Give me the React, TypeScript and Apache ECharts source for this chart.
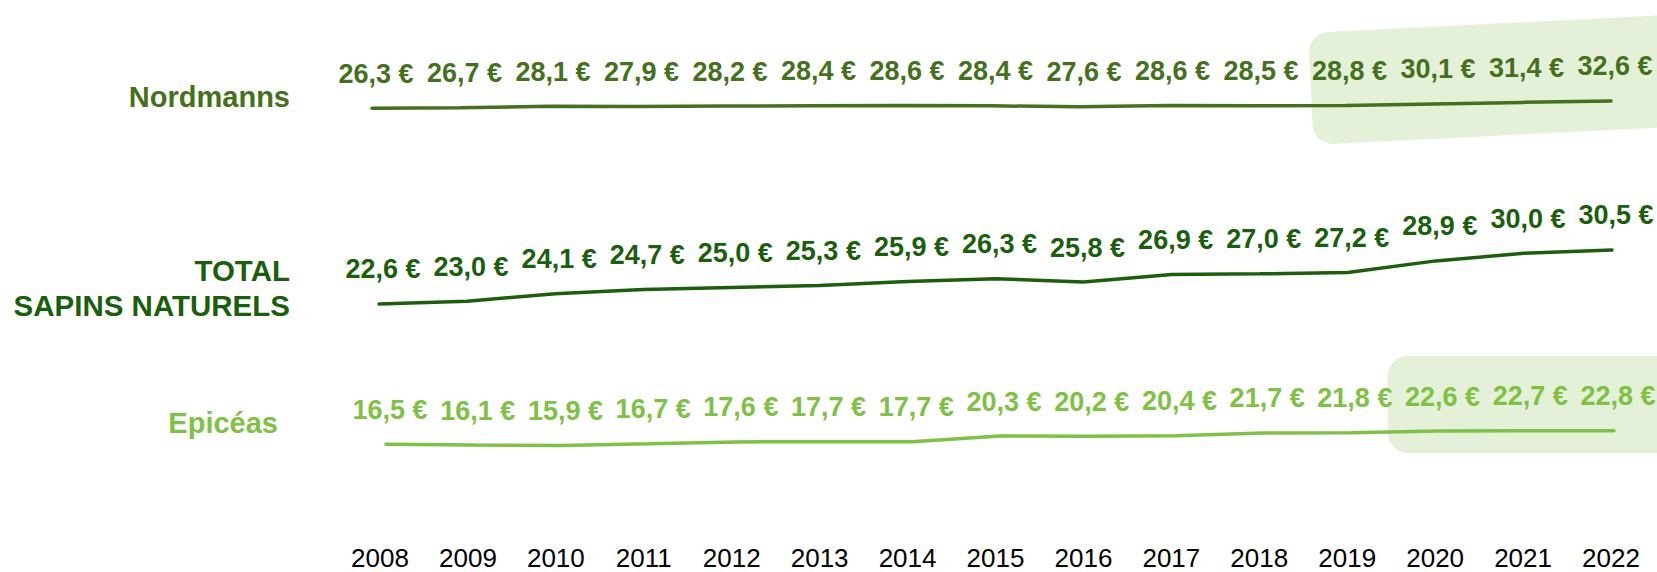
import React, { useEffect, useRef } from "react";
import * as echarts from "echarts";

const years = ["2008","2009","2010","2011","2012","2013","2014","2015","2016","2017","2018","2019","2020","2021","2022"];
const nordmanns = [26.3, 26.7, 28.1, 27.9, 28.2, 28.4, 28.6, 28.4, 27.6, 28.6, 28.5, 28.8, 30.1, 31.4, 32.6];
const total = [22.6, 23.0, 24.1, 24.7, 25.0, 25.3, 25.9, 26.3, 25.8, 26.9, 27.0, 27.2, 28.9, 30.0, 30.5];
const epiceas = [16.5, 16.1, 15.9, 16.7, 17.6, 17.7, 17.7, 20.3, 20.2, 20.4, 21.7, 21.8, 22.6, 22.7, 22.8];

const C_NORD = "#44721c";
const C_TOTAL = "#1a5f0b";
const C_EPI = "#7dc243";
const C_BOX = "#e4f1d8";
const FONT = '"Liberation Sans", Arial, sans-serif';

const fmt = (v: number) => v.toFixed(1).replace(".", ",") + " €";

export default function App() {
  const ref = useRef<HTMLDivElement>(null);
  useEffect(() => {
    if (!ref.current) return;
    const chart = echarts.init(ref.current, null, { renderer: "svg" });
    const hiddenX = (gridIndex: number) => ({
      type: "category" as const,
      gridIndex,
      data: years,
      boundaryGap: false,
      axisLine: { show: false },
      axisTick: { show: false },
      axisLabel: { show: false },
      splitLine: { show: false },
    });
    const hiddenY = (gridIndex: number, min: number, max: number) => ({
      type: "value" as const,
      gridIndex,
      min,
      max,
      axisLine: { show: false },
      axisTick: { show: false },
      axisLabel: { show: false },
      splitLine: { show: false },
    });
    const lineSeries = (data: number[], idx: number, color: string) => ({
      type: "line" as const,
      xAxisIndex: idx,
      yAxisIndex: idx,
      data,
      symbol: "circle",
      symbolSize: 0.1,
      showSymbol: true,
      itemStyle: { color },
      lineStyle: { color, width: 3.5, cap: "round" as const },
      label: {
        show: true,
        position: "top" as const,
        distance: 21,
        offset: [4, 0],
        formatter: (p: any) => fmt(p.value),
        color,
        fontFamily: FONT,
        fontWeight: "bold" as const,
        fontSize: 27,
      },
      z: 5,
    });
    chart.setOption({
      animation: false,
      backgroundColor: "#ffffff",
      grid: [
        { left: 372, right: 46, top: 92.4, height: 46.4 },
        { left: 379, right: 45, top: 219.2, height: 102.5 },
        { left: 386, right: 43, top: 415.1, height: 64.8 },
        { left: 380, right: 46, top: 497, height: 40 },
      ],
      xAxis: [
        hiddenX(0),
        hiddenX(1),
        hiddenX(2),
        {
          type: "category",
          gridIndex: 3,
          data: years,
          boundaryGap: false,
          axisLine: { show: false },
          axisTick: { show: false },
          splitLine: { show: false },
          axisLabel: {
            show: true,
            interval: 0,
            margin: 8,
            color: "#000000",
            fontFamily: FONT,
            fontSize: 26,
          },
        },
      ],
      yAxis: [
        hiddenY(0, 0, 40),
        hiddenY(1, 20, 35),
        hiddenY(2, 0, 30),
        hiddenY(3, 0, 1),
      ],
      graphic: [
        {
          type: "rect",
          x: 1308,
          y: 33,
          rotation: 0.05,
          originX: 0,
          originY: 0,
          shape: { x: 0, y: 0, width: 420, height: 112, r: 20 },
          style: { fill: C_BOX },
          z: -10,
        },
        {
          type: "rect",
          x: 1388,
          y: 356,
          shape: { x: 0, y: 0, width: 320, height: 97, r: 20 },
          style: { fill: C_BOX },
          z: -10,
        },
        {
          type: "text",
          x: 290,
          y: 97,
          style: {
            text: "Nordmanns",
            align: "right",
            verticalAlign: "middle",
            fill: C_NORD,
            font: `bold 29px ${FONT}`,
          },
        },
        {
          type: "text",
          x: 290,
          y: 288,
          style: {
            text: "TOTAL\nSAPINS NATURELS",
            align: "right",
            verticalAlign: "middle",
            lineHeight: 35,
            fill: C_TOTAL,
            font: `bold 29.5px ${FONT}`,
          },
        },
        {
          type: "text",
          x: 278,
          y: 423,
          style: {
            text: "Epicéas",
            align: "right",
            verticalAlign: "middle",
            fill: C_EPI,
            font: `bold 29px ${FONT}`,
          },
        },
      ],
      series: [
        lineSeries(nordmanns, 0, C_NORD),
        lineSeries(total, 1, C_TOTAL),
        lineSeries(epiceas, 2, C_EPI),
      ],
    });
    return () => chart.dispose();
  }, []);
  return (
    <div
      ref={ref}
      style={{ position: "absolute", left: 0, top: 0, width: 1657, height: 572 }}
    />
  );
}
